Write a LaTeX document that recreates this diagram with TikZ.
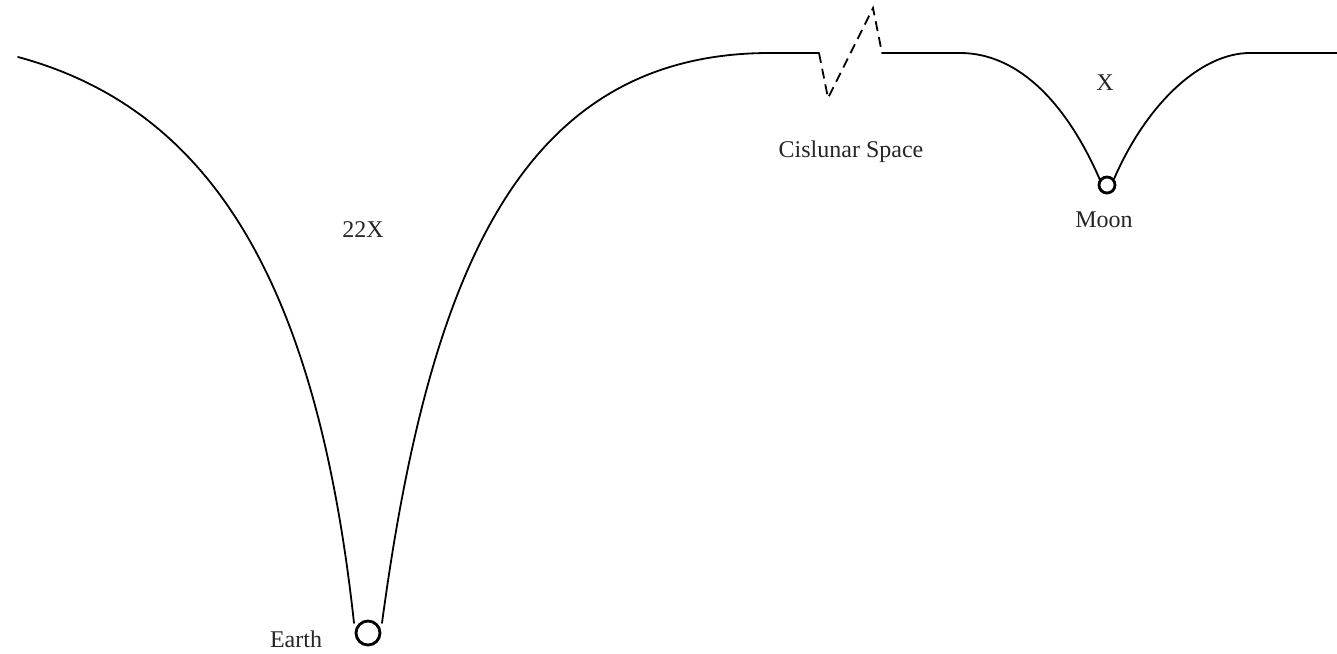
\documentclass[tikz,border=0pt]{standalone}
\usepackage{fontspec}
\setmainfont{Liberation Serif}
\begin{document}
\begin{tikzpicture}[x=0.5pt,y=-0.5pt,
  profile/.style={line width=0.9pt, line join=round, line cap=round},
  gap/.style={line width=0.9pt, dash pattern=on 5pt off 3pt},
  body/.style={circle, draw, line width=1.4pt, inner sep=0pt},
  lbl/.style={anchor=base, inner sep=0pt, font=\fontsize{12}{14}\selectfont, text=black!85}]
\useasboundingbox (0,0) rectangle (1337,653);
% bodies
\node[body, minimum size=12pt] (earth) at (368,633) {};
\node[body, minimum size=8pt] (moon) at (1107,185) {};
% break points
\coordinate (b0) at (819,53);
\coordinate (b1) at (828,98);
\coordinate (b2) at (873,8);
\coordinate (b3) at (882,53);
% Earth well
\draw[profile] (18,57) .. controls (218,111) and (318,294) .. (354,623);
\draw[profile] (382,623) .. controls (429,274) and (520,53) .. (770,53) -- (b0);
% break
\draw[gap] (b0) -- (b1) -- (b2) -- (b3);
% Moon well
\draw[profile] (b3) -- (960,53) .. controls (1020,53) and (1068,106) .. (1100,180);
\draw[profile] (1114,179) .. controls (1146,105) and (1200,53) .. (1250,53) -- (1337,53);
% labels
\node[lbl] (cis) at (851,157) {Cislunar Space};
\node[lbl] (x) at (1105,90) {X};
\node[lbl] (moonl) at (1104,227) {Moon};
\node[lbl] (tx) at (363,237) {22X};
\node[lbl] (earthl) at (296,647) {Earth};
\end{tikzpicture}
\end{document}
